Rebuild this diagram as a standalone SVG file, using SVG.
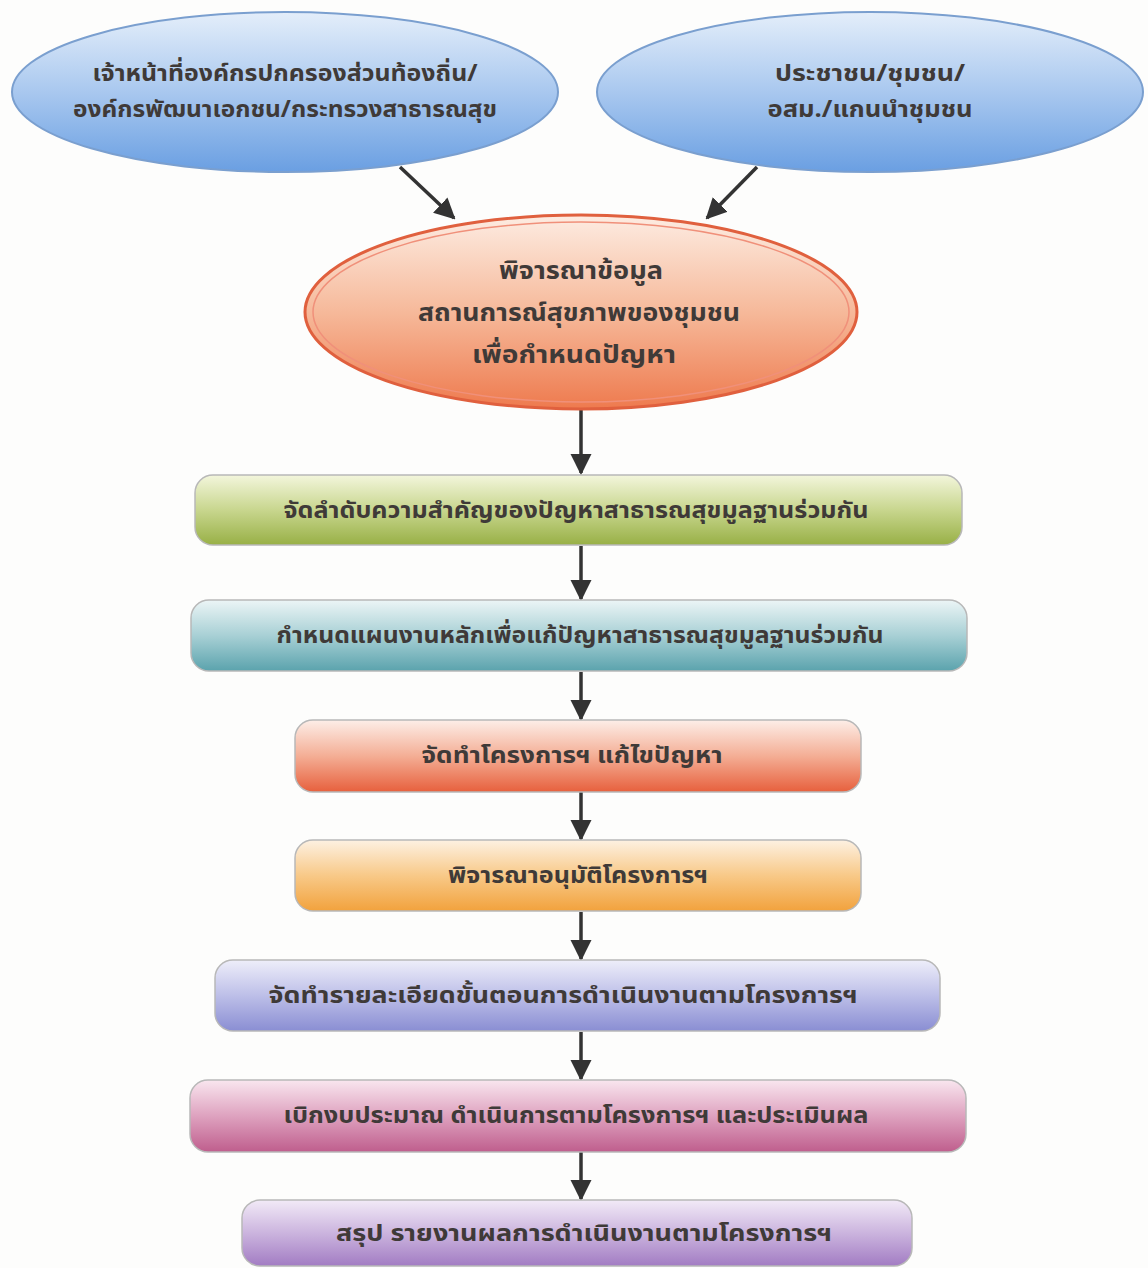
<svg xmlns="http://www.w3.org/2000/svg" width="1148" height="1268" viewBox="0 0 1148 1268">
<defs>
<style>
.t{font-family:"Noto Sans Thai","Noto Sans","DejaVu Sans",sans-serif;font-weight:bold;font-size:23px;fill:#3f3a38;text-anchor:middle;}
.tb{font-size:25px;}
.c{stroke:#333;stroke-width:3.5;fill:none;}
.box{stroke:#b8b8b8;stroke-width:1.5;}
</style>
<marker id="ah" viewBox="0 0 10 10" refX="9" refY="5" markerWidth="6" markerHeight="6.5" orient="auto" markerUnits="strokeWidth">
<path d="M0,0 L10,5 L0,10 z" fill="#333"/>
</marker>
<linearGradient id="gBlue" x1="0" y1="0" x2="0" y2="1"><stop offset="0" stop-color="#e4eefa"/><stop offset="0.5" stop-color="#a9c8ef"/><stop offset="1" stop-color="#6a9fe2"/></linearGradient>
<linearGradient id="gOr" x1="0" y1="0" x2="0" y2="1"><stop offset="0" stop-color="#fdece2"/><stop offset="0.5" stop-color="#f6b99a"/><stop offset="1" stop-color="#ee7a4e"/></linearGradient>
<linearGradient id="g1" x1="0" y1="0" x2="0" y2="1"><stop offset="0" stop-color="#f3f6dc"/><stop offset="0.5" stop-color="#c8d68e"/><stop offset="1" stop-color="#98b046"/></linearGradient>
<linearGradient id="g2" x1="0" y1="0" x2="0" y2="1"><stop offset="0" stop-color="#ecf5f6"/><stop offset="0.5" stop-color="#a8d0d5"/><stop offset="1" stop-color="#5ba3ad"/></linearGradient>
<linearGradient id="g3" x1="0" y1="0" x2="0" y2="1"><stop offset="0" stop-color="#fdeee8"/><stop offset="0.5" stop-color="#f4ae95"/><stop offset="1" stop-color="#e7603d"/></linearGradient>
<linearGradient id="g4" x1="0" y1="0" x2="0" y2="1"><stop offset="0" stop-color="#fdf1e2"/><stop offset="0.5" stop-color="#f8c988"/><stop offset="1" stop-color="#f2a23d"/></linearGradient>
<linearGradient id="g5" x1="0" y1="0" x2="0" y2="1"><stop offset="0" stop-color="#eeeefa"/><stop offset="0.5" stop-color="#bdbfe8"/><stop offset="1" stop-color="#8a8ed3"/></linearGradient>
<linearGradient id="g6" x1="0" y1="0" x2="0" y2="1"><stop offset="0" stop-color="#f9e6ef"/><stop offset="0.5" stop-color="#dea2bf"/><stop offset="1" stop-color="#bf5e8d"/></linearGradient>
<linearGradient id="g7" x1="0" y1="0" x2="0" y2="1"><stop offset="0" stop-color="#f2eaf7"/><stop offset="0.5" stop-color="#cbb4de"/><stop offset="1" stop-color="#a27cc3"/></linearGradient>
</defs>
<rect width="1148" height="1268" fill="#fdfdfc"/>

<g id="connectors">
<line class="c" x1="400" y1="167" x2="454" y2="218" marker-end="url(#ah)"/>
<line class="c" x1="757" y1="167" x2="707" y2="218" marker-end="url(#ah)"/>
<line class="c" x1="581" y1="410" x2="581" y2="473" marker-end="url(#ah)"/>
<line class="c" x1="581" y1="546" x2="581" y2="599" marker-end="url(#ah)"/>
<line class="c" x1="581" y1="672" x2="581" y2="719" marker-end="url(#ah)"/>
<line class="c" x1="581" y1="792" x2="581" y2="839" marker-end="url(#ah)"/>
<line class="c" x1="581" y1="912" x2="581" y2="959" marker-end="url(#ah)"/>
<line class="c" x1="581" y1="1032" x2="581" y2="1079" marker-end="url(#ah)"/>
<line class="c" x1="581" y1="1152" x2="581" y2="1199" marker-end="url(#ah)"/>
</g>

<g id="n1">
<ellipse cx="285" cy="92" rx="273" ry="80" fill="url(#gBlue)" stroke="#7a9fcf" stroke-width="2"/>
<text class="t" x="285" y="81" textLength="385" lengthAdjust="spacingAndGlyphs">เจ้าหน้าที่องค์กรปกครองส่วนท้องถิ่น/</text>
<text class="t" x="285" y="117" textLength="424" lengthAdjust="spacingAndGlyphs">องค์กรพัฒนาเอกชน/กระทรวงสาธารณสุข</text>
</g>
<g id="n2">
<ellipse cx="870" cy="92" rx="273" ry="80" fill="url(#gBlue)" stroke="#7a9fcf" stroke-width="2"/>
<text class="t" x="870" y="81" textLength="190" lengthAdjust="spacingAndGlyphs">ประชาชน/ชุมชน/</text>
<text class="t" x="870" y="117" textLength="205" lengthAdjust="spacingAndGlyphs">อสม./แกนนำชุมชน</text>
</g>
<g id="n3">
<ellipse cx="581" cy="312" rx="276" ry="97" fill="url(#gOr)" stroke="#e0603e" stroke-width="3"/>
<ellipse cx="581" cy="312" rx="268" ry="90" fill="none" stroke="#f0907a" stroke-width="1.5"/>
<text class="t tb" x="581" y="279" textLength="164" lengthAdjust="spacingAndGlyphs">พิจารณาข้อมูล</text>
<text class="t tb" x="579" y="321" textLength="322" lengthAdjust="spacingAndGlyphs">สถานการณ์สุขภาพของชุมชน</text>
<text class="t tb" x="574" y="363" textLength="204" lengthAdjust="spacingAndGlyphs">เพื่อกำหนดปัญหา</text>
</g>
<g id="n4">
<rect class="box" x="195" y="475" width="767" height="70" rx="18" fill="url(#g1)"/>
<text class="t" x="576" y="518" textLength="585" lengthAdjust="spacingAndGlyphs">จัดลำดับความสำคัญของปัญหาสาธารณสุขมูลฐานร่วมกัน</text>
</g>
<g id="n5">
<rect class="box" x="191" y="600" width="776" height="71" rx="18" fill="url(#g2)"/>
<text class="t" x="580" y="643" textLength="607" lengthAdjust="spacingAndGlyphs">กำหนดแผนงานหลักเพื่อแก้ปัญหาสาธารณสุขมูลฐานร่วมกัน</text>
</g>
<g id="n6">
<rect class="box" x="295" y="720" width="566" height="72" rx="18" fill="url(#g3)"/>
<text class="t" x="572" y="763" textLength="301" lengthAdjust="spacingAndGlyphs">จัดทำโครงการฯ แก้ไขปัญหา</text>
</g>
<g id="n7">
<rect class="box" x="295" y="840" width="566" height="71" rx="18" fill="url(#g4)"/>
<text class="t" x="578" y="883" textLength="260" lengthAdjust="spacingAndGlyphs">พิจารณาอนุมัติโครงการฯ</text>
</g>
<g id="n8">
<rect class="box" x="215" y="960" width="725" height="71" rx="18" fill="url(#g5)"/>
<text class="t" x="563" y="1003" textLength="589" lengthAdjust="spacingAndGlyphs">จัดทำรายละเอียดขั้นตอนการดำเนินงานตามโครงการฯ</text>
</g>
<g id="n9">
<rect class="box" x="190" y="1080" width="776" height="72" rx="18" fill="url(#g6)"/>
<text class="t" x="576" y="1123" textLength="585" lengthAdjust="spacingAndGlyphs">เบิกงบประมาณ ดำเนินการตามโครงการฯ และประเมินผล</text>
</g>
<g id="n10">
<rect class="box" x="242" y="1200" width="670" height="66" rx="18" fill="url(#g7)"/>
<text class="t" x="584" y="1241" textLength="496" lengthAdjust="spacingAndGlyphs">สรุป รายงานผลการดำเนินงานตามโครงการฯ</text>
</g>
</svg>
